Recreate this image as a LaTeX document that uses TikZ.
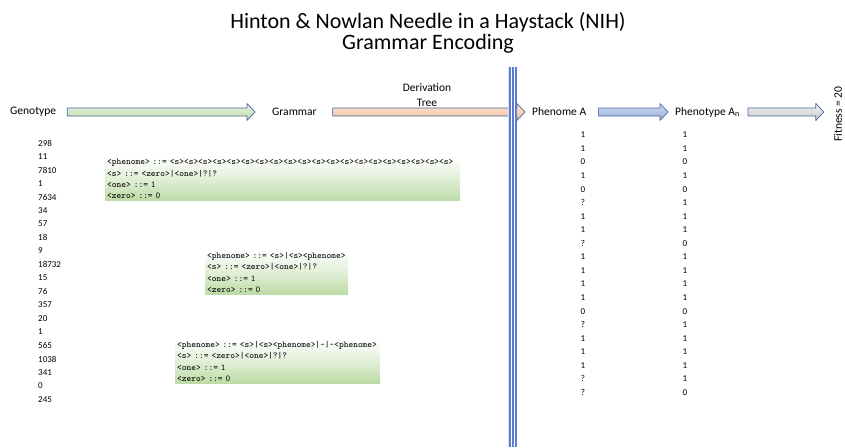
\documentclass[tikz,border=0pt]{standalone}
\usepackage{fontspec}
\setmainfont{Carlito}
\usepackage{tikz}
\usetikzlibrary{calc}

\definecolor{arrowedge}{HTML}{4A64A0}
\definecolor{greenA}{HTML}{E6F1DE}
\definecolor{greenB}{HTML}{BFDDAA}
\definecolor{orangeA}{HTML}{FCE6D8}
\definecolor{orangeB}{HTML}{F4BE98}
\definecolor{blueA}{HTML}{D3DEF2}
\definecolor{blueB}{HTML}{94ADDC}
\definecolor{grayA}{HTML}{F2F2F2}
\definecolor{grayB}{HTML}{C9C9C9}
\definecolor{gramgreen}{HTML}{BCDBA5}
\definecolor{splitblue}{HTML}{5B7FD0}
\definecolor{splitlight}{HTML}{D6E0F5}

\tikzset{
  label/.style={font=\fontsize{11.5}{14.5}\selectfont, inner sep=0pt},
  num/.style={font=\fontsize{9}{11}\selectfont, inner sep=0pt},
  flow/.style={draw=arrowedge, line width=0.7pt, line join=round},
  gramrule/.style={font=\ttfamily\fontsize{9}{11.3}\selectfont, align=left,
    anchor=north west, inner xsep=2pt, inner ysep=2pt,
    top color=white, bottom color=gramgreen, middle color=gramgreen!45},
}

% block arrow: style, from, to, gap at start, gap at end
\newcommand{\fatarrow}[5]{%
  \draw[flow,#1] let \p1=($(#2)+(#4,0)$), \p2=($(#3)-(#5,0)$) in
    (\x1,\y1+4pt) -- (\x2-8pt,\y1+4pt) -- (\x2-8pt,\y1+8.5pt) -- (\x2,\y1)
    -- (\x2-8pt,\y1-8.5pt) -- (\x2-8pt,\y1-4pt) -- (\x1,\y1-4pt) -- cycle;}

\begin{document}
\begin{tikzpicture}[x=1pt,y=-1pt]
\useasboundingbox (0,0) rectangle (845,447);

\node[font=\fontsize{22}{21.5}\selectfont, align=center] (title) at (428,33)
  {Hinton \& Nowlan Needle in a Haystack (NIH)\\Grammar Encoding};

% top row
\node[label, anchor=west] (geno) at (10,112) {Genotype};
\node[label, anchor=west] (gram) at (272,112) {Grammar};
\node[label, align=center] (deriv) at (427,95) {Derivation\\Tree};
\node[label, anchor=west] (phenA) at (532,112) {Phenome A};
\node[label, anchor=west] (phenoAn) at (675,112) {Phenotype A\textsubscript{n}};
\node[label, rotate=90] (fitness) at (838,114) {Fitness = 20};

\fatarrow{top color=greenA, bottom color=greenB}{geno.east}{gram.west}{11pt}{17pt}
\fatarrow{top color=orangeA, bottom color=orangeB}{gram.east}{phenA.west}{16pt}{7pt}
\fatarrow{top color=blueA, bottom color=blueB}{phenA.east}{phenoAn.west}{12pt}{7pt}
\fatarrow{top color=grayA, bottom color=grayB}{phenoAn.east}{fitness.north}{8pt}{10pt}

% split line
\fill[splitlight] (508.3,67) rectangle (517.3,447);
\fill[white] (511,67) rectangle (512.3,447);
\fill[white] (514,67) rectangle (515,447);
\foreach \x in {510.2,513.2,515.7}
  \draw[splitblue, line width=1.6pt] (\x,67) -- (\x,447);

% genotype values
\foreach \v [count=\i] in {298,11,7810,1,7634,34,57,18,9,18732,15,76,357,20,1,565,1038,341,0,245}
  \node[num, anchor=west] (g\i) at (38,{143+13.5*(\i-1)}) {\v};

% phenome and phenotype values
\foreach \a/\b [count=\i] in {1/1,1/1,0/0,1/1,0/0,?/1,1/1,1/1,?/0,1/1,1/1,1/1,1/1,0/0,?/1,1/1,1/1,1/1,?/1,?/0}
{
  \node[num] (pa\i) at (583,{135+13.55*(\i-1)}) {\a};
  \node[num] (pn\i) at (685,{135+13.55*(\i-1)}) {\b};
}

% grammars
\node[gramrule, text width=351pt] (gramA) at (105,157)
  {<phenome> ::= <s><s><s><s><s><s><s><s><s><s><s><s><s><s><s><s><s><s><s><s>\\
   <s> ::= <zero>|<one>|?|?\\
   <one> ::= 1\\
   <zero> ::= 0};
\node[gramrule, text width=139pt] (gramB) at (205,250)
  {<phenome> ::= <s>|<s><phenome>\\
   <s> ::= <zero>|<one>|?|?\\
   <one> ::= 1\\
   <zero> ::= 0};
\node[gramrule, text width=201pt] (gramC) at (175,339)
  {<phenome> ::= <s>|<s><phenome>|\textasciitilde|\textasciitilde<phenome>\\
   <s> ::= <zero>|<one>|?|?\\
   <one> ::= 1\\
   <zero> ::= 0};
\end{tikzpicture}
\end{document}
